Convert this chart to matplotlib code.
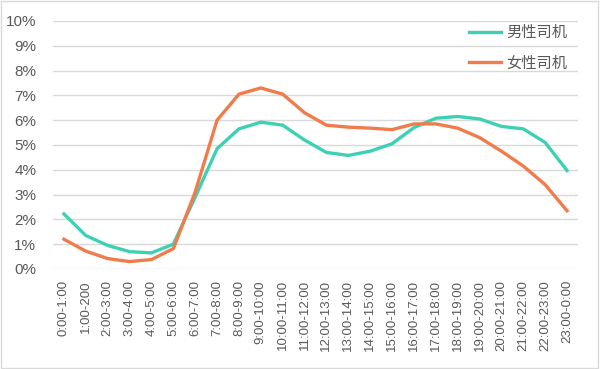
import matplotlib
matplotlib.use("Agg")
import matplotlib.pyplot as plt
from matplotlib.patches import Rectangle

plt.rcParams['font.family'] = ['Liberation Sans', 'Noto Sans CJK SC', 'DejaVu Sans']

categories = ["0:00-1:00", "1:00-200", "2:00-3:00", "3:00-4:00", "4:00-5:00", "5:00-6:00",
              "6:00-7:00", "7:00-8:00", "8:00-9:00", "9:00-10:00", "10:00-11:00", "11:00-12:00",
              "12:00-13:00", "13:00-14:00", "14:00-15:00", "15:00-16:00", "16:00-17:00",
              "17:00-18:00", "18:00-19:00", "19:00-20:00", "20:00-21:00", "21:00-22:00",
              "22:00-23:00", "23:00-0:00"]
male = [2.22, 1.35, 0.95, 0.70, 0.65, 1.00, 2.90, 4.85, 5.65, 5.92, 5.80, 5.20,
        4.70, 4.58, 4.75, 5.05, 5.70, 6.08, 6.15, 6.05, 5.75, 5.65, 5.10, 3.97]
female = [1.20, 0.72, 0.42, 0.30, 0.38, 0.82, 3.10, 6.00, 7.05, 7.30, 7.05, 6.30,
          5.80, 5.72, 5.68, 5.62, 5.85, 5.85, 5.68, 5.30, 4.75, 4.15, 3.40, 2.35]
yticks = list(range(0, 11))
series_names = ["男性司机", "女性司机"]

fig = plt.figure(figsize=(6, 3.69), dpi=100)
ax = fig.add_axes([53/600, 1-269/369, (578-53)/600, (269-21)/369])

x = list(range(len(categories)))
ax.plot(x, male, color="#3DD1B4", lw=2.4, label=series_names[0], solid_joinstyle='round')
ax.plot(x, female, color="#F07B4B", lw=2.4, label=series_names[1], solid_joinstyle='round')

ax.set_xlim(-0.5, len(categories) - 0.5)
ax.set_ylim(0, 10)
ax.set_yticks(yticks)
ax.set_yticklabels([f"{v}%" for v in yticks], fontsize=11, color="#595959")
ax.set_xticks(x)
ax.set_xticklabels(categories, rotation=90, fontsize=9.5, color="#595959")
ax.tick_params(length=0)
ax.tick_params(axis='y', pad=12)
ax.tick_params(axis='x', pad=8)
ax.grid(axis='y', color="#D9D9D9", lw=1)
ax.set_axisbelow(True)
for s in ax.spines.values():
    s.set_visible(False)

leg = ax.legend(loc="upper right", bbox_to_anchor=(1.005, 1.035), frameon=False, fontsize=11,
                handlelength=2.1, labelspacing=1.05, handletextpad=0.3, labelcolor="#595959")

fig.patches.append(Rectangle((0.002, 0.003), 0.995, 0.993, transform=fig.transFigure,
                             fill=False, edgecolor="#D9D9D9", lw=1))
fig.savefig("out.png", dpi=100)
